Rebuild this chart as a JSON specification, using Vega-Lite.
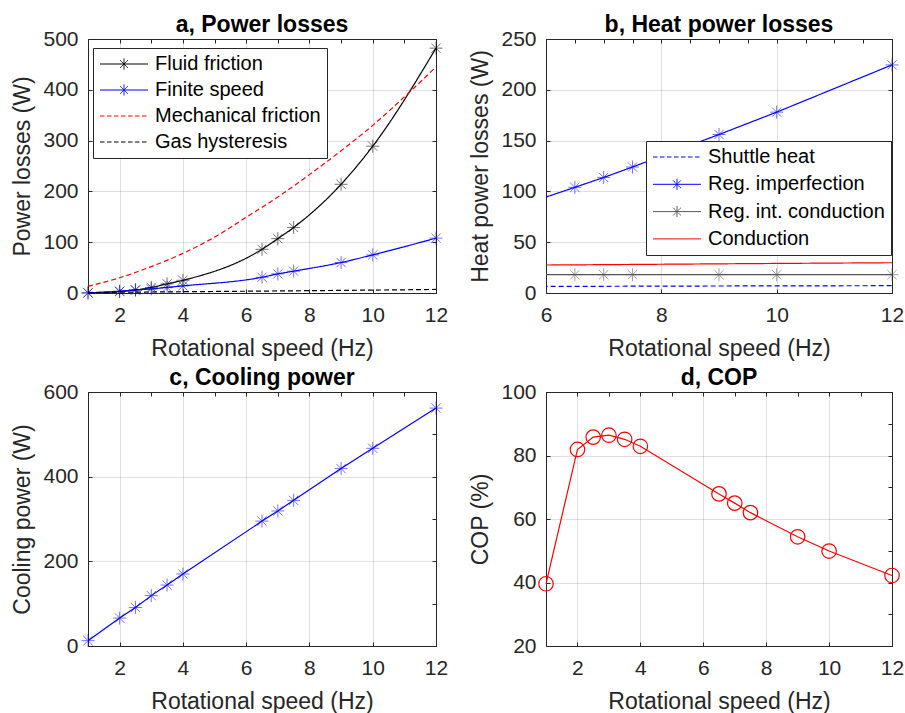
{
  "$schema": "https://vega.github.io/schema/vega-lite/v6.json",
  "background": "white",
  "padding": {"left": 11, "top": 13, "right": 2, "bottom": 0},
  "datasets": {
    "pa": [
      {"series": "Fluid friction", "x": 1, "y": 0.5},
      {"series": "Fluid friction", "x": 2, "y": 3},
      {"series": "Fluid friction", "x": 2.5, "y": 6},
      {"series": "Fluid friction", "x": 3, "y": 11},
      {"series": "Fluid friction", "x": 3.5, "y": 18},
      {"series": "Fluid friction", "x": 4, "y": 25},
      {"series": "Fluid friction", "x": 6.5, "y": 86},
      {"series": "Fluid friction", "x": 7, "y": 107},
      {"series": "Fluid friction", "x": 7.5, "y": 129},
      {"series": "Fluid friction", "x": 9, "y": 214},
      {"series": "Fluid friction", "x": 10, "y": 289},
      {"series": "Fluid friction", "x": 12, "y": 482},
      {"series": "Finite speed", "x": 1, "y": 0},
      {"series": "Finite speed", "x": 2, "y": 3.5},
      {"series": "Finite speed", "x": 2.5, "y": 6},
      {"series": "Finite speed", "x": 3, "y": 8},
      {"series": "Finite speed", "x": 3.5, "y": 11},
      {"series": "Finite speed", "x": 4, "y": 14},
      {"series": "Finite speed", "x": 6.5, "y": 31},
      {"series": "Finite speed", "x": 7, "y": 37.6},
      {"series": "Finite speed", "x": 7.5, "y": 43},
      {"series": "Finite speed", "x": 9, "y": 60},
      {"series": "Finite speed", "x": 10, "y": 75},
      {"series": "Finite speed", "x": 12, "y": 108},
      {"series": "Mechanical friction", "x": 1, "y": 13},
      {"series": "Mechanical friction", "x": 2, "y": 30},
      {"series": "Mechanical friction", "x": 3, "y": 52},
      {"series": "Mechanical friction", "x": 4, "y": 78},
      {"series": "Mechanical friction", "x": 5, "y": 110},
      {"series": "Mechanical friction", "x": 6, "y": 149},
      {"series": "Mechanical friction", "x": 7, "y": 189},
      {"series": "Mechanical friction", "x": 8, "y": 233},
      {"series": "Mechanical friction", "x": 9, "y": 280},
      {"series": "Mechanical friction", "x": 10, "y": 330},
      {"series": "Mechanical friction", "x": 11, "y": 386},
      {"series": "Mechanical friction", "x": 12, "y": 445},
      {"series": "Gas hysteresis", "x": 1, "y": 1},
      {"series": "Gas hysteresis", "x": 2, "y": 1.5},
      {"series": "Gas hysteresis", "x": 3, "y": 2},
      {"series": "Gas hysteresis", "x": 4, "y": 2.5},
      {"series": "Gas hysteresis", "x": 6, "y": 3.5},
      {"series": "Gas hysteresis", "x": 8, "y": 4.6},
      {"series": "Gas hysteresis", "x": 10, "y": 5.7},
      {"series": "Gas hysteresis", "x": 12, "y": 7}
    ],
    "pb": [
      {"series": "Shuttle heat", "x": 4, "y": 6.3},
      {"series": "Shuttle heat", "x": 6.5, "y": 6.5},
      {"series": "Shuttle heat", "x": 7, "y": 6.6},
      {"series": "Shuttle heat", "x": 7.5, "y": 6.7},
      {"series": "Shuttle heat", "x": 9, "y": 6.9},
      {"series": "Shuttle heat", "x": 10, "y": 7},
      {"series": "Shuttle heat", "x": 12, "y": 7.2},
      {"series": "Reg. imperfection", "x": 4, "y": 56},
      {"series": "Reg. imperfection", "x": 6.5, "y": 104},
      {"series": "Reg. imperfection", "x": 7, "y": 113.7},
      {"series": "Reg. imperfection", "x": 7.5, "y": 124},
      {"series": "Reg. imperfection", "x": 9, "y": 156},
      {"series": "Reg. imperfection", "x": 10, "y": 178},
      {"series": "Reg. imperfection", "x": 12, "y": 224.5},
      {"series": "Reg. int. conduction", "x": 4, "y": 18},
      {"series": "Reg. int. conduction", "x": 6.5, "y": 18},
      {"series": "Reg. int. conduction", "x": 7, "y": 18},
      {"series": "Reg. int. conduction", "x": 7.5, "y": 18},
      {"series": "Reg. int. conduction", "x": 9, "y": 18},
      {"series": "Reg. int. conduction", "x": 10, "y": 18},
      {"series": "Reg. int. conduction", "x": 12, "y": 18},
      {"series": "Conduction", "x": 4, "y": 27},
      {"series": "Conduction", "x": 6.5, "y": 27.7},
      {"series": "Conduction", "x": 7, "y": 27.9},
      {"series": "Conduction", "x": 7.5, "y": 28.1},
      {"series": "Conduction", "x": 9, "y": 28.7},
      {"series": "Conduction", "x": 10, "y": 29.1},
      {"series": "Conduction", "x": 12, "y": 29.8}
    ],
    "pc": [
      {"x": 1, "y": 12.6}, {"x": 2, "y": 66}, {"x": 2.5, "y": 91}, {"x": 3, "y": 119},
      {"x": 3.5, "y": 144}, {"x": 4, "y": 170}, {"x": 6.5, "y": 295}, {"x": 7, "y": 319},
      {"x": 7.5, "y": 344}, {"x": 9, "y": 419}, {"x": 10, "y": 467}, {"x": 12, "y": 562}
    ],
    "pd": [
      {"x": 1, "y": 39.6}, {"x": 2, "y": 81.9}, {"x": 2.5, "y": 85.8}, {"x": 3, "y": 86.4},
      {"x": 3.5, "y": 85.1}, {"x": 4, "y": 82.9}, {"x": 6.5, "y": 67.9}, {"x": 7, "y": 65},
      {"x": 7.5, "y": 62}, {"x": 9, "y": 54.4}, {"x": 10, "y": 49.9}, {"x": 12, "y": 42.2}
    ]
  },
  "columns": 2,
  "bounds": "flush",
  "spacing": {"row": 99, "column": 110},
  "resolve": {"scale": {"color": "independent", "strokeDash": "independent"}, "legend": {"color": "independent"}},
  "concat": [
    {
      "title": "a, Power losses",
      "width": 348, "height": 254,
      "data": {"name": "pa"},
      "layer": [
        {
          "mark": {"type": "line", "strokeWidth": 1.2, "interpolate": "monotone"},
          "encoding": {
            "x": {"field": "x", "type": "quantitative", "scale": {"domain": [1, 12], "nice": false, "zero": false},
                  "axis": {"title": "Rotational speed (Hz)", "values": [2, 4, 6, 8, 10, 12], "grid": true, "orient": "bottom"}},
            "y": {"field": "y", "type": "quantitative", "scale": {"domain": [0, 500], "nice": false},
                  "axis": {"title": "Power losses  (W)", "values": [0, 100, 200, 300, 400, 500], "grid": true, "orient": "left"}},
            "color": {"field": "series", "type": "nominal",
              "scale": {"domain": ["Fluid friction", "Finite speed", "Mechanical friction", "Gas hysteresis"], "range": ["#000000", "#0000ff", "#ff0000", "#000000"]},
              "legend": {"orient": "none", "legendX": 5, "legendY": 9, "title": null, "symbolSize": 100, "labelOffset": 36, "padding": 6, "rowPadding": 6,
                "strokeColor": "#262626", "fillColor": "white", "labelFont": "Liberation Sans", "labelFontSize": 20, "labelColor": "#000000", "labelLimit": 400, "symbolStrokeWidth": 1,
                "encode": {"symbols": {"update": {"shape": {"signal": "indexof(['Fluid friction','Finite speed'], datum.value) >= 0 ? 'M-1.8,0L7.8,0M3,-1.1L3,1.1M2.22,-0.78L3.78,0.78M2.22,0.78L3.78,-0.78' : 'M-1.8,0L-0.9,0M-0.4,0L0.5,0M1,0L1.9,0M2.4,0L3.3,0M3.8,0L4.7,0M5.2,0L6.1,0M6.6,0L7.5,0'"}, "fill": {"value": "transparent"}, "opacity": {"value": 1}}}}}},
            "strokeDash": {"field": "series", "type": "nominal",
              "scale": {"domain": ["Fluid friction", "Finite speed", "Mechanical friction", "Gas hysteresis"], "range": [[1, 0], [1, 0], [5, 3], [5, 3]]},
              "legend": null}
          }
        },
        {
          "transform": [{"filter": {"field": "series", "oneOf": ["Fluid friction", "Finite speed"]}}],
          "mark": {"type": "point", "shape": "M-1,0L1,0M0,-1L0,1M-0.71,-0.71L0.71,0.71M-0.71,0.71L0.71,-0.71", "size": 169, "filled": false, "strokeWidth": 1, "opacity": 0.55},
          "encoding": {
            "x": {"field": "x", "type": "quantitative", "axis": {"orient": "top", "labels": false, "title": null, "grid": false}},
            "y": {"field": "y", "type": "quantitative", "axis": {"orient": "right", "labels": false, "title": null, "grid": false}},
            "color": {"field": "series", "type": "nominal", "legend": null}
          }
        }
      ],
      "resolve": {"axis": {"x": "independent", "y": "independent"}}
    },
    {
      "title": "b, Heat power losses",
      "width": 346, "height": 254,
      "data": {"name": "pb"},
      "layer": [
        {
          "mark": {"type": "line", "strokeWidth": 1.2, "clip": true},
          "encoding": {
            "x": {"field": "x", "type": "quantitative", "scale": {"domain": [6, 12], "nice": false, "zero": false},
                  "axis": {"title": "Rotational speed (Hz)", "values": [6, 8, 10, 12], "grid": true, "orient": "bottom"}},
            "y": {"field": "y", "type": "quantitative", "scale": {"domain": [0, 250], "nice": false},
                  "axis": {"title": "Heat power losses (W)", "values": [0, 50, 100, 150, 200, 250], "grid": true, "orient": "left"}},
            "color": {"field": "series", "type": "nominal",
              "scale": {"domain": ["Shuttle heat", "Reg. imperfection", "Reg. int. conduction", "Conduction"], "range": ["#0000ff", "#0000ff", "#555555", "#ff0000"]},
              "legend": {"orient": "none", "legendX": 100, "legendY": 102, "title": null, "symbolSize": 100, "labelOffset": 36, "padding": 6, "rowPadding": 7.3,
                "strokeColor": "#262626", "fillColor": "white", "labelFont": "Liberation Sans", "labelFontSize": 20, "labelColor": "#000000", "labelLimit": 400, "symbolStrokeWidth": 1,
                "encode": {"symbols": {"update": {"shape": {"signal": "datum.value == 'Shuttle heat' ? 'M-1.8,0L-0.9,0M-0.4,0L0.5,0M1,0L1.9,0M2.4,0L3.3,0M3.8,0L4.7,0M5.2,0L6.1,0M6.6,0L7.5,0' : datum.value == 'Conduction' ? 'M-1.8,0L7.8,0' : 'M-1.8,0L7.8,0M3,-1.1L3,1.1M2.22,-0.78L3.78,0.78M2.22,0.78L3.78,-0.78'"}, "fill": {"value": "transparent"}, "opacity": {"value": 1}}}}}},
            "strokeDash": {"field": "series", "type": "nominal",
              "scale": {"domain": ["Shuttle heat", "Reg. imperfection", "Reg. int. conduction", "Conduction"], "range": [[5, 3], [1, 0], [1, 0], [1, 0]]},
              "legend": null}
          }
        },
        {
          "transform": [{"filter": {"field": "series", "oneOf": ["Reg. imperfection", "Reg. int. conduction"]}}, {"filter": "datum.x >= 6"}],
          "mark": {"type": "point", "shape": "M-1,0L1,0M0,-1L0,1M-0.71,-0.71L0.71,0.71M-0.71,0.71L0.71,-0.71", "size": 169, "filled": false, "strokeWidth": 1, "opacity": 0.55},
          "encoding": {
            "x": {"field": "x", "type": "quantitative", "axis": {"orient": "top", "labels": false, "title": null, "grid": false}},
            "y": {"field": "y", "type": "quantitative", "axis": {"orient": "right", "labels": false, "title": null, "grid": false}},
            "color": {"field": "series", "type": "nominal", "legend": null}
          }
        }
      ],
      "resolve": {"axis": {"x": "independent", "y": "independent"}}
    },
    {
      "title": "c, Cooling power",
      "width": 348, "height": 254,
      "data": {"name": "pc"},
      "layer": [
        {
          "mark": {"type": "line", "strokeWidth": 1.2, "color": "#0000ff"},
          "encoding": {
            "x": {"field": "x", "type": "quantitative", "scale": {"domain": [1, 12], "nice": false, "zero": false},
                  "axis": {"title": "Rotational speed (Hz)", "values": [2, 4, 6, 8, 10, 12], "grid": true, "orient": "bottom"}},
            "y": {"field": "y", "type": "quantitative", "scale": {"domain": [0, 600], "nice": false},
                  "axis": {"title": "Cooling power (W)", "values": [0, 200, 400, 600], "grid": true, "orient": "left"}}
          }
        },
        {
          "mark": {"type": "point", "shape": "M-1,0L1,0M0,-1L0,1M-0.71,-0.71L0.71,0.71M-0.71,0.71L0.71,-0.71", "size": 169, "filled": false, "strokeWidth": 1, "opacity": 0.55, "color": "#0000ff"},
          "encoding": {
            "x": {"field": "x", "type": "quantitative", "axis": {"orient": "top", "labels": false, "title": null, "grid": false}},
            "y": {"field": "y", "type": "quantitative", "axis": {"orient": "right", "labels": false, "title": null, "grid": false}}
          }
        }
      ],
      "resolve": {"axis": {"x": "independent", "y": "independent"}}
    },
    {
      "title": "d, COP",
      "width": 346, "height": 254,
      "data": {"name": "pd"},
      "layer": [
        {
          "mark": {"type": "line", "strokeWidth": 1.2, "color": "#ff0000"},
          "encoding": {
            "x": {"field": "x", "type": "quantitative", "scale": {"domain": [1, 12], "nice": false, "zero": false},
                  "axis": {"title": "Rotational speed (Hz)", "values": [2, 4, 6, 8, 10, 12], "grid": true, "orient": "bottom"}},
            "y": {"field": "y", "type": "quantitative", "scale": {"domain": [20, 100], "nice": false, "zero": false},
                  "axis": {"title": "COP (%)", "values": [20, 40, 60, 80, 100], "grid": true, "orient": "left"}}
          }
        },
        {
          "mark": {"type": "point", "shape": "circle", "size": 210, "filled": false, "strokeWidth": 1.2, "opacity": 1, "color": "#ff0000"},
          "encoding": {
            "x": {"field": "x", "type": "quantitative", "axis": {"orient": "top", "labels": false, "title": null, "grid": false}},
            "y": {"field": "y", "type": "quantitative", "axis": {"orient": "right", "labels": false, "title": null, "grid": false}}
          }
        }
      ],
      "resolve": {"axis": {"x": "independent", "y": "independent"}}
    }
  ],
  "config": {
    "font": "Liberation Sans",
    "view": {"stroke": "#262626", "strokeWidth": 1},
    "axis": {
      "labelFont": "Liberation Sans", "labelFontSize": 21, "labelColor": "#262626",
      "titleFont": "Liberation Sans", "titleFontSize": 23, "titleFontWeight": "normal", "titleColor": "#262626",
      "domain": false, "ticks": true, "tickColor": "#262626", "tickSize": -4, "tickWidth": 1,
      "gridColor": "#262626", "gridOpacity": 0.15, "gridWidth": 1,
      "labelFlush": false, "labelOverlap": false, "titlePadding": 8
    },
    "axisX": {"labelPadding": 15, "titlePadding": 12},
    "axisY": {"labelPadding": 14},
    "title": {"font": "Liberation Sans", "fontSize": 23, "fontWeight": "bold", "color": "#000000", "anchor": "middle", "frame": "group", "offset": -9, "baseline": "alphabetic"}
  }
}
